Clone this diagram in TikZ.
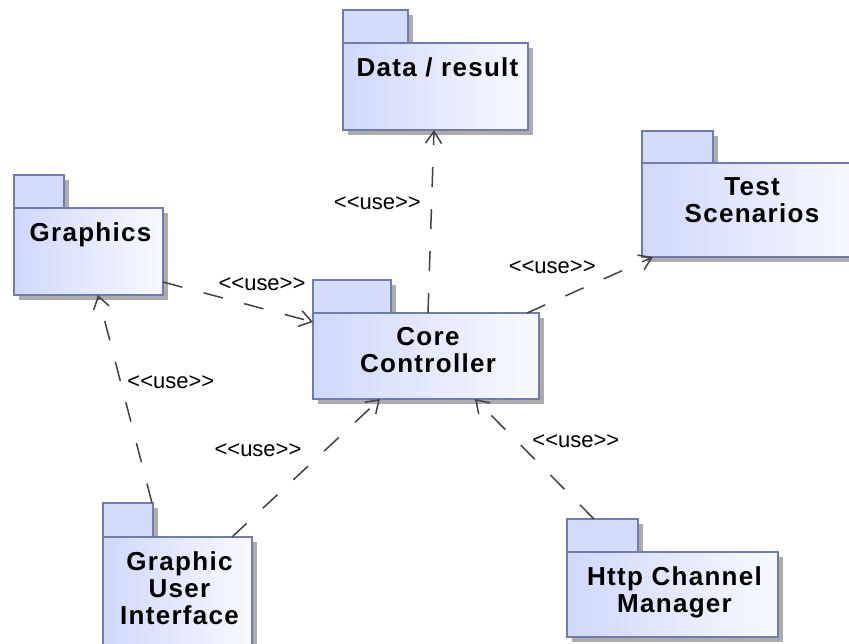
\documentclass[tikz,border=0pt]{standalone}
\usepackage{fontspec}
\setmainfont{Liberation Sans}
\newfontfamily\pkgfont[LetterSpace=5]{Liberation Sans}
\usetikzlibrary{positioning,arrows.meta,shadows}

\definecolor{pkgline}{RGB}{112,124,170}
\definecolor{pkgleft}{RGB}{208,216,250}
\definecolor{pkgright}{RGB}{248,249,255}
\definecolor{pkgtabfill}{RGB}{212,220,250}
\definecolor{pkgshadow}{RGB}{172,172,172}
\definecolor{usegray}{RGB}{66,66,66}

\newcommand{\usetext}{<{}<use>{}>}

\begin{document}
\begin{tikzpicture}[
			x=1pt, y=-1pt,
			pkgtab/.style={rectangle, draw=pkgline, line width=1.2pt, fill=pkgtabfill, outer sep=0pt, inner sep=0pt, minimum height=33pt, anchor=south west, drop shadow={shadow xshift=5pt, shadow yshift=-5pt, fill=pkgshadow, opacity=1}},
			pkgbody/.style={rectangle, draw=pkgline, line width=1.2pt, left color=pkgleft, right color=pkgright, outer sep=0pt, inner sep=0pt, anchor=north west, drop shadow={shadow xshift=5pt, shadow yshift=-5pt, fill=pkgshadow, opacity=1}},
			pkgname/.style={anchor=north, inner sep=0pt, xshift=2pt, yshift=-14.5pt, align=center, font=\pkgfont\fontsize{26}{27}\selectfont\bfseries},
			use/.style={draw=usegray, line width=1.5pt, dash pattern=on 20pt off 22pt, -{Straight Barb[length=12pt, width=16pt]}},
			uselabel/.style={inner sep=0pt, font=\fontsize{22}{24}\selectfont}
		]
		\useasboundingbox (0,0) rectangle (849,643);
		\clip (0,0) rectangle (849,643);

		% packages: tab first, then body below it
		\node[pkgtab, minimum width=65pt] (datatab) at (343,43) {};
		\node[pkgbody, minimum width=185pt, minimum height=87pt, label={[pkgname]north:Data / result}] (data) at (datatab.south west) {};

		\node[pkgtab, minimum width=78pt] (coretab) at (313,313) {};
		\node[pkgbody, minimum width=226pt, minimum height=86pt, label={[pkgname]north:{Core\\Controller}}] (core) at (coretab.south west) {};

		\node[pkgtab, minimum width=50pt] (graphicstab) at (14,208) {};
		\node[pkgbody, minimum width=149pt, minimum height=87pt, label={[pkgname]north:Graphics}] (graphics) at (graphicstab.south west) {};

		\node[pkgtab, minimum width=71pt, minimum height=32pt] (testtab) at (642,163) {};
		\node[pkgbody, minimum width=216pt, minimum height=94pt, label={[pkgname]north:{Test\\Scenarios}}] (test) at (testtab.south west) {};

		\node[pkgtab, minimum width=50pt, minimum height=34pt] (guitab) at (103,537) {};
		\node[pkgbody, minimum width=149pt, minimum height=120pt, label={[pkgname]north:{Graphic\\User\\Interface}}] (gui) at (guitab.south west) {};

		\node[pkgtab, minimum width=71pt] (httptab) at (567,552) {};
		\node[pkgbody, minimum width=211pt, minimum height=85pt, label={[pkgname]north:{Http Channel\\Manager}}] (http) at (httptab.south west) {};

		% <<use>> dependencies
		\draw[use] ([xshift=2pt]core.north) -- node[uselabel, pos=0.6, left=10pt] (l1) {\usetext} ([xshift=-1.5pt]data.south);
		\draw[use] ([yshift=13pt]graphics.south east) -- node[uselabel, pos=0.66, above=17pt] (l2) {\usetext} ([yshift=-9pt]core.north west);
		\draw[use] ([xshift=-12pt]core.north east) -- node[uselabel, pos=0.2, above=27pt] (l3) {\usetext} ([xshift=11pt]test.south west);
		\draw[use] ([xshift=-1pt]guitab.north east) -- node[uselabel, pos=0.58, right=6pt] (l4) {\usetext} ([xshift=9.5pt]graphics.south);
		\draw[use] ([xshift=-20pt]gui.north east) -- node[uselabel, pos=0.5, xshift=-48pt, yshift=18pt] (l5) {\usetext} ([xshift=-46pt]core.south);
		\draw[use] ([xshift=27pt]httptab.north west) -- node[uselabel, pos=0.65, right=15pt] (l6) {\usetext} ([xshift=49pt]core.south);
	\end{tikzpicture}
\end{document}
